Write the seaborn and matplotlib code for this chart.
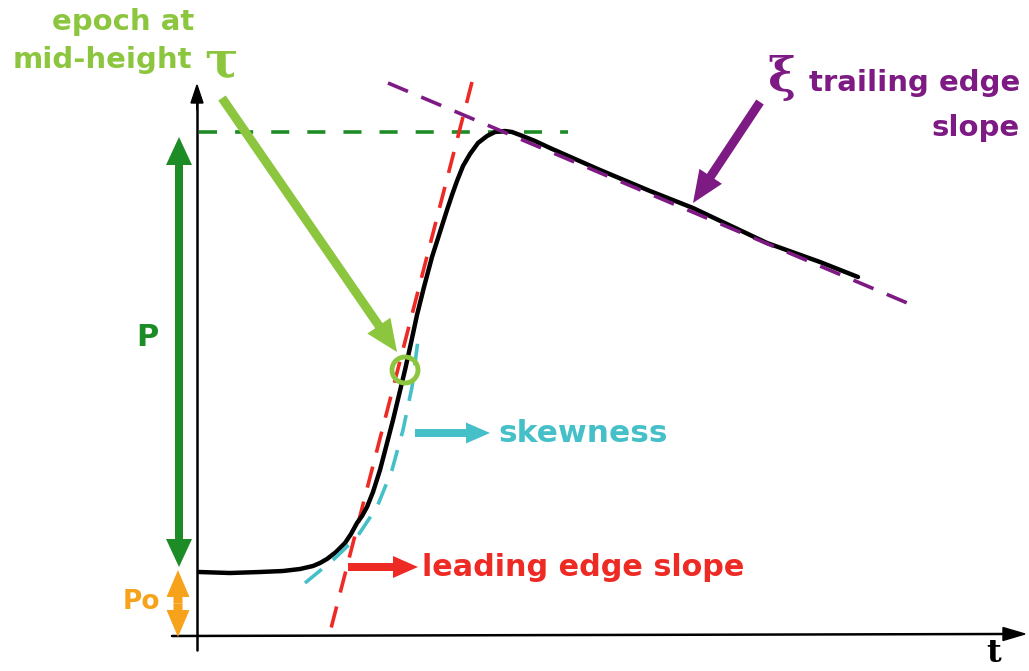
import matplotlib
matplotlib.use("Agg")
import matplotlib.pyplot as plt
import seaborn as sns
from matplotlib.patches import Circle

sns.set_theme(style="white")
plt.rcParams['font.family'] = ['DejaVu Sans']

# ---- data (in picture units: t to the right, P downwards) ----
wave_t = [199, 230, 260, 283, 300, 313, 320, 327, 336, 345, 351, 357, 362, 367, 373,
          380, 386, 393, 399, 405, 411, 417, 424, 432, 440, 447, 452, 457, 463, 470,
          478, 487, 495, 505, 512, 520, 535, 550, 600, 650, 693, 767, 820, 858]
wave_p = [572, 573, 572, 571, 569, 566, 563, 559, 552, 543, 534, 523, 516, 507, 492,
          470, 447, 420, 395, 370, 343, 315, 287, 257, 232, 210, 195, 181, 166, 154,
          143, 136, 132, 131, 132, 135, 141, 148, 170, 191, 208, 243, 262, 277]

skew_t = [305, 333, 357, 377, 392, 403, 412, 418]
skew_p = [583, 560, 537, 507, 470, 430, 387, 340]

lead_t = [472, 328]
lead_p = [82, 640]

trail_t = [388, 912]
trail_p = [83, 305]

peak_t = [199, 568]
peak_p = [132, 132]

tau_point = (405, 370)
baseline_p = 572
peak_level = 132
axis_origin = (197, 636)

LIME = "#8cc63f"
DGREEN = "#1e8c26"
ORANGE = "#f7a21b"
RED = "#ee2a24"
CYAN = "#45c0c8"
PURPLE = "#7d1a83"

fig = plt.figure(figsize=(10.29, 6.71), dpi=100)
ax = fig.add_axes([0, 0, 1, 1])
ax.set_xlim(0, 1029)
ax.set_ylim(671, 0)
ax.axis("off")

# axes with arrows
ax.plot([axis_origin[0], axis_origin[0]], [650, 100], color="black", lw=1.8, zorder=5)
ax.arrow(axis_origin[0], 110, 0, -25, width=0.1, head_width=12, head_length=18,
         length_includes_head=True, color="black", zorder=5)
ax.plot([172, 1005], [axis_origin[1], 634], color="black", lw=1.8, zorder=5)
ax.arrow(1000, 634, 25, 0, width=0.1, head_width=13, head_length=22,
         length_includes_head=True, color="black", zorder=5)
ax.text(994, 654, "t", fontsize=23, fontweight="bold", family="DejaVu Serif",
        ha="center", va="center", color="black")

# dashed guide lines
sns.lineplot(x=peak_t, y=peak_p, sort=False, estimator=None, ax=ax, color=DGREEN,
             lw=2.6, linestyle=(0, (5, 5)), zorder=2)
sns.lineplot(x=lead_t, y=lead_p, sort=False, estimator=None, ax=ax, color=RED,
             lw=2.6, linestyle=(0, (6, 4)), zorder=2)
sns.lineplot(x=trail_t, y=trail_p, sort=False, estimator=None, ax=ax, color=PURPLE,
             lw=2.6, linestyle=(0, (6, 4)), zorder=4)
sns.lineplot(x=skew_t, y=skew_p, sort=False, estimator=None, ax=ax, color=CYAN,
             lw=2.6, linestyle=(0, (6, 4)), zorder=4)

# waveform
sns.lineplot(x=wave_t, y=wave_p, sort=False, estimator=None, ax=ax, color="black",
             lw=3.2, zorder=3, solid_joinstyle="round", solid_capstyle="round")

# P double arrow
p_mid = (peak_level + 5 + baseline_p - 5) / 2
for end in (peak_level + 5, baseline_p - 5):
    ax.arrow(179, p_mid, 0, end - p_mid, width=8, head_width=26, head_length=28,
             length_includes_head=True, color=DGREEN, lw=0, zorder=5)
ax.text(147, 338, "P", fontsize=22, fontweight="bold", color=DGREEN,
        ha="center", va="center")

# Po double arrow
po_mid = (570 + 637) / 2
for end in (570, 637):
    ax.arrow(178, po_mid, 0, end - po_mid, width=9, head_width=23, head_length=27,
             length_includes_head=True, color=ORANGE, lw=0, zorder=5)
ax.text(141, 602, "Po", fontsize=19, fontweight="bold", color=ORANGE,
        ha="center", va="center")

# epoch at mid-height
ax.text(123, 22, "epoch at", fontsize=21, fontweight="bold", color=LIME,
        ha="center", va="center")
ax.text(102, 60, "mid-height", fontsize=21, fontweight="bold", color=LIME,
        ha="center", va="center")
ax.text(221, 63, "τ", fontsize=36, fontweight="bold", family="DejaVu Serif", color=LIME,
        ha="center", va="center")
ax.arrow(222, 98, 397 - 222, 352 - 98, width=9, head_width=28, head_length=32,
         length_includes_head=True, color=LIME, lw=0, zorder=6)
ax.add_patch(Circle(tau_point, 13, fill=False, ec=LIME, lw=3.5, zorder=6))

# trailing edge slope
ax.text(781, 78, "ξ", fontsize=34, fontweight="bold", family="DejaVu Serif", color=PURPLE,
        ha="center", va="center")
ax.text(1020, 83, "trailing edge", fontsize=21, fontweight="bold", color=PURPLE,
        ha="right", va="center")
ax.text(1020, 128, "slope", fontsize=21, fontweight="bold", color=PURPLE,
        ha="right", va="center")
ax.arrow(760, 102, 693 - 760, 203 - 102, width=9, head_width=27, head_length=32,
         length_includes_head=True, color=PURPLE, lw=0, zorder=6)

# skewness
ax.arrow(415, 433, 75, 0, width=8, head_width=21, head_length=24,
         length_includes_head=True, color=CYAN, lw=0, zorder=6)
ax.text(498, 433, "skewness", fontsize=22.5, fontweight="bold", color=CYAN,
        ha="left", va="center")

# leading edge slope
ax.arrow(348, 567, 70, 0, width=8, head_width=22, head_length=25,
         length_includes_head=True, color=RED, lw=0, zorder=6)
ax.text(422, 567, "leading edge slope", fontsize=21.8, fontweight="bold", color=RED,
        ha="left", va="center")

fig.savefig("out.png", dpi=100, facecolor="white")
